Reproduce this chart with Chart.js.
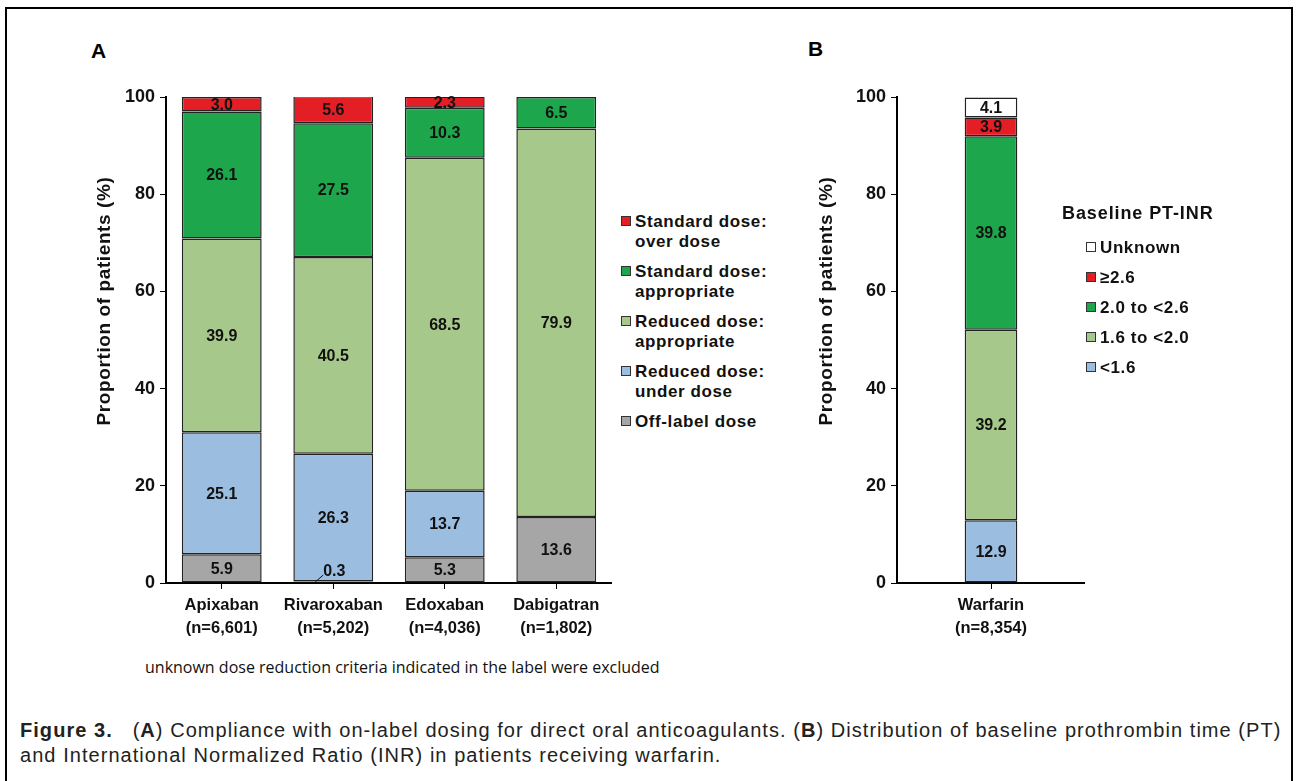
<!DOCTYPE html>
<html lang="en">
  <head>
    <meta charset="UTF-8" />
    <title>Figure 3 - DOAC dosing and baseline PT-INR</title>
    <style>
      body {
        margin: 0;
        width: 1297px;
        height: 781px;
        overflow: hidden;
        background: #fff;
        font-family: "Liberation Sans", Arial, sans-serif;
        position: relative;
      }
      .frame {
        position: absolute;
        left: 5px;
        top: 7px;
        width: 1284px;
        height: 800px;
        border: 2px solid #000;
      }
      .box { position: absolute; }
      .panel {
        position: absolute;
        font-weight: bold;
        font-size: 21px;
      }
      .legend {
        position: absolute;
        font-weight: bold;
        font-size: 17px;
        letter-spacing: 0.6px;
        color: #111;
      }
      .legend .item {
        position: relative;
        padding-left: 14px;
        line-height: 19.5px;
      }
      .legend .sw {
        position: absolute;
        left: 0;
        top: 4px;
        width: 8px;
        height: 8px;
        border: 1.5px solid #333;
      }
      .note {
        position: absolute;
        left: 145px;
        top: 656px;
        font-family: "Open Sans", sans-serif;
        font-size: 16px;
        color: #111;
      }
      .caption {
        position: absolute;
        left: 20px;
        top: 718px;
        font-size: 20px;
        letter-spacing: 1.05px;
        line-height: 25px;
        color: #222;
        white-space: nowrap;
      }
    </style>
    <script src="https://cdn.jsdelivr.net/npm/chart.js"></script>
  </head>
  <body>
    <div class="frame"></div>
    <div class="panel" style="left: 91px; top: 39px">A</div>
    <div class="panel" style="left: 808px; top: 37px">B</div>

    <div class="box" style="left: 90px; top: 80px; width: 522px; height: 560px">
      <canvas id="chartA"></canvas>
    </div>
    <div class="box" style="left: 800px; top: 80px; width: 285px; height: 560px">
      <canvas id="chartB"></canvas>
    </div>

    <div class="legend" id="legendA" style="left: 621px; top: 212px"></div>
    <div class="legend" id="legendB" style="left: 1062px; top: 203px">
      <div style="font-size: 18px; letter-spacing: 0.9px; margin-bottom: 14px">Baseline PT-INR</div>
    </div>

    <div class="note">unknown dose reduction criteria indicated in the label were excluded</div>
    <div class="caption">
      <b>Figure 3.</b>&nbsp;&nbsp;&nbsp;(<b>A</b>) Compliance with on-label dosing for direct oral anticoagulants. (<b>B</b>) Distribution of baseline prothrombin time (PT)<br />
      and International Normalized Ratio (INR) in patients receiving warfarin.
    </div>

    <script>
      // Panel A: DOACs (stacked bottom -> top)
      const drugs = [
        ["Apixaban", "(n=6,601)"],
        ["Rivaroxaban", "(n=5,202)"],
        ["Edoxaban", "(n=4,036)"],
        ["Dabigatran", "(n=1,802)"]
      ];
      const offLabel = [5.9, 0.3, 5.3, 13.6];
      const reducedUnder = [25.1, 26.3, 13.7, 0];
      const reducedAppropriate = [39.9, 40.5, 68.5, 79.9];
      const standardAppropriate = [26.1, 27.5, 10.3, 6.5];
      const standardOver = [3.0, 5.6, 2.3, 0];
      const seriesNamesA = [
        ["Off-label dose"],
        ["Reduced dose:", "under dose"],
        ["Reduced dose:", "appropriate"],
        ["Standard dose:", "appropriate"],
        ["Standard dose:", "over dose"]
      ];

      // Panel B: warfarin baseline PT-INR (stacked bottom -> top)
      const warfarin = [["Warfarin", "(n=8,354)"]];
      const inrBelow16 = [12.9];
      const inr16to20 = [39.2];
      const inr20to26 = [39.8];
      const inrAbove26 = [3.9];
      const inrUnknown = [4.1];
      const seriesNamesB = ["<1.6", "1.6 to <2.0", "2.0 to <2.6", "\u22652.6", "Unknown"];

      const yTicks = [0, 20, 40, 60, 80, 100];

      const colors = {
        red: "#e31e24",
        green: "#1ea64c",
        lightGreen: "#a6c98b",
        blue: "#9bbde0",
        gray: "#a6a6a6",
        white: "#ffffff"
      };
      const FONT = "'Liberation Sans', Arial, sans-serif";

      // value labels drawn in the middle of each segment
      const segmentLabels = {
        id: "segmentLabels",
        afterDatasetsDraw(chart) {
          const ctx = chart.ctx;
          ctx.save();
          ctx.font = "bold 16px " + FONT;
          ctx.fillStyle = "#111";
          ctx.textAlign = "center";
          ctx.textBaseline = "middle";
          chart.data.datasets.forEach((ds, i) => {
            const meta = chart.getDatasetMeta(i);
            meta.data.forEach((bar, j) => {
              const v = ds.data[j];
              if (!v) return;
              const cy = (bar.y + bar.base) / 2;
              if (v < 1) {
                ctx.beginPath();
                ctx.strokeStyle = "#111";
                ctx.lineWidth = 1;
                ctx.moveTo(bar.x - 18, cy);
                ctx.lineTo(bar.x - 10, cy - 7);
                ctx.stroke();
                ctx.fillText(v.toFixed(1), bar.x + 1, cy - 10);
              } else {
                ctx.fillText(v.toFixed(1), bar.x, cy + 1);
              }
            });
          });
          ctx.restore();
        }
      };

      // rotated y title placed where the original has it
      const yTitle = {
        id: "yTitle",
        afterDraw(chart, args, opts) {
          const ctx = chart.ctx;
          ctx.save();
          ctx.translate(opts.x, opts.y);
          ctx.rotate(-Math.PI / 2);
          ctx.font = "bold 19px " + FONT;
          ctx.letterSpacing = "0.6px";
          ctx.fillStyle = "#111";
          ctx.textAlign = "center";
          ctx.textBaseline = "middle";
          ctx.fillText("Proportion of patients (%)", 0, 0);
          ctx.restore();
        }
      };

      function makeDataset(label, data, color) {
        return {
          label: label,
          data: data,
          backgroundColor: color,
          borderColor: "#222",
          borderWidth: 1.5,
          borderSkipped: false
        };
      }

      function makeOptions(yAxisWidth, barPct, titleX) {
        return {
          responsive: true,
          maintainAspectRatio: false,
          animation: false,
          layout: { padding: { top: 17, right: 0, bottom: 0, left: 0 } },
          plugins: {
            legend: { display: false },
            tooltip: { enabled: false },
            yTitle: { x: titleX, y: 221 }
          },
          datasets: {
            bar: { barPercentage: barPct, categoryPercentage: 1 }
          },
          scales: {
            x: {
              stacked: true,
              afterFit(scale) { scale.height = 57; },
              grid: { offset: false, drawOnChartArea: false, color: "#000", tickLength: 6 },
              border: { color: "#000", width: 2 },
              ticks: {
                color: "#111",
                padding: 5,
                font: { family: FONT, weight: "bold", size: 16.5, lineHeight: 1.4 }
              }
            },
            y: {
              stacked: true,
              min: 0,
              max: 100,
              afterFit(scale) { scale.width = yAxisWidth; },
              afterBuildTicks(scale) { scale.ticks = yTicks.map(v => ({ value: v })); },
              grid: { drawOnChartArea: false, color: "#000", tickLength: 6 },
              border: { color: "#000", width: 2 },
              ticks: {
                color: "#111",
                padding: 5,
                font: { family: FONT, weight: "bold", size: 18 }
              }
            }
          }
        };
      }

      function buildLegend(el, names, cols, gap, indent) {
        for (let i = names.length - 1; i >= 0; i--) {
          const item = document.createElement("div");
          item.className = "item";
          item.style.marginBottom = gap + "px";
          item.style.marginLeft = indent + "px";
          const sw = document.createElement("span");
          sw.className = "sw";
          sw.style.background = cols[i];
          item.appendChild(sw);
          const lines = Array.isArray(names[i]) ? names[i] : [names[i]];
          lines.forEach((t, k) => {
            if (k) item.appendChild(document.createElement("br"));
            item.appendChild(document.createTextNode(t));
          });
          el.appendChild(item);
        }
      }

      const colsA = [colors.gray, colors.blue, colors.lightGreen, colors.green, colors.red];
      const valuesA = [offLabel, reducedUnder, reducedAppropriate, standardAppropriate, standardOver];
      new Chart(document.getElementById("chartA"), {
        type: "bar",
        data: {
          labels: drugs,
          datasets: valuesA.map((d, i) => makeDataset(seriesNamesA[i].join(" "), d, colsA[i]))
        },
        options: makeOptions(76, 0.716, 15),
        plugins: [segmentLabels, yTitle]
      });

      const colsB = [colors.blue, colors.lightGreen, colors.green, colors.red, colors.white];
      const valuesB = [inrBelow16, inr16to20, inr20to26, inrAbove26, inrUnknown];
      new Chart(document.getElementById("chartB"), {
        type: "bar",
        data: {
          labels: warfarin,
          datasets: valuesB.map((d, i) => makeDataset(seriesNamesB[i], d, colsB[i]))
        },
        options: makeOptions(97, 0.28, 27),
        plugins: [segmentLabels, yTitle]
      });

      buildLegend(document.getElementById("legendA"), seriesNamesA, colsA, 11, 0);
      buildLegend(document.getElementById("legendB"), seriesNamesB, colsB, 10.5, 24);
    </script>
  </body>
</html>
